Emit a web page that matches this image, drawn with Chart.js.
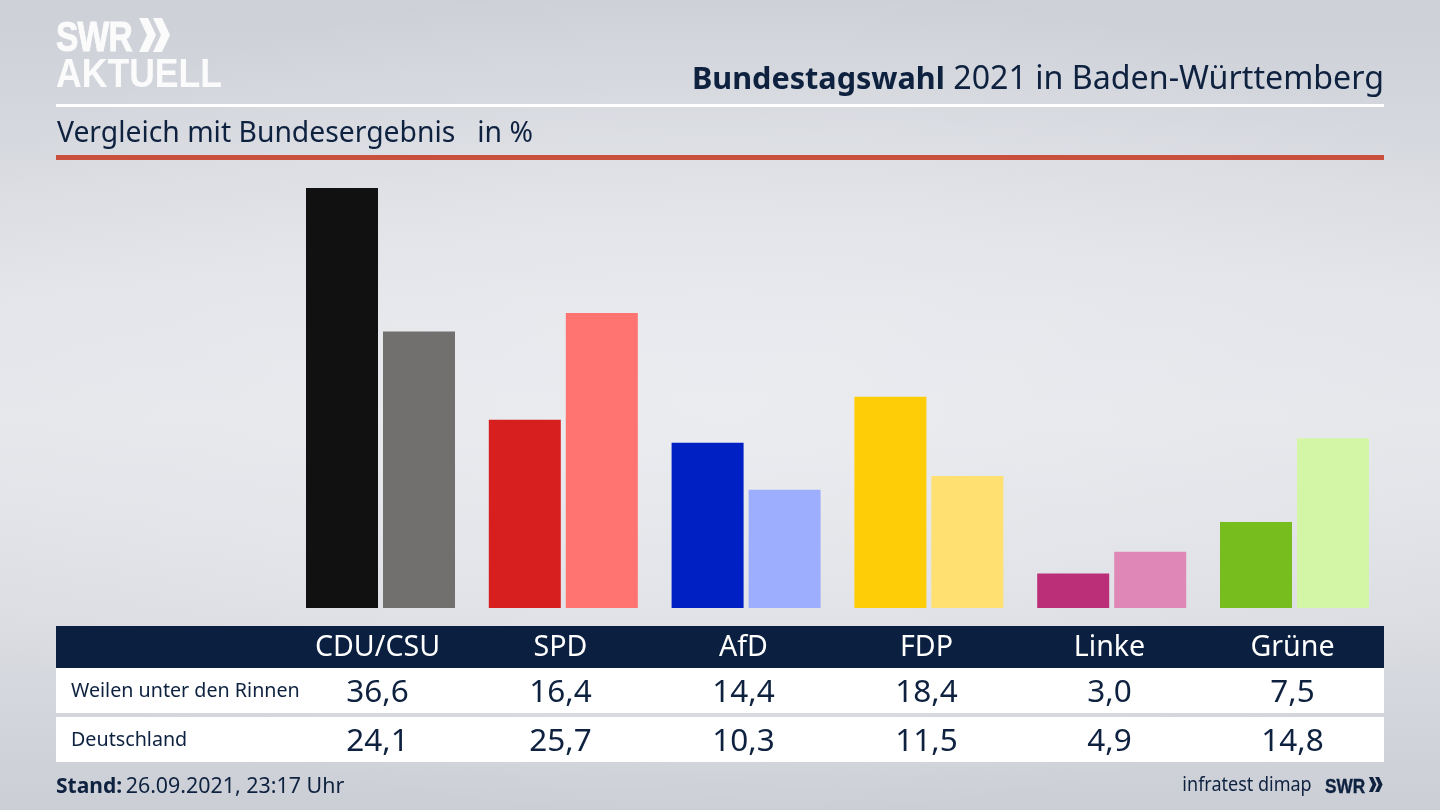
<!DOCTYPE html>
<html lang="de"><head><meta charset="utf-8">
<script src="https://cdn.jsdelivr.net/npm/chart.js@4"></script>
<style>
html,body{margin:0;padding:0;width:1440px;height:810px;overflow:hidden}
body{position:relative;font-family:"Noto Sans",sans-serif;color:#0e2240;
background:radial-gradient(ellipse 900px 420px at 50% 400px,rgba(236,237,241,.75),rgba(236,237,241,0)),linear-gradient(180deg,#cdd0d7 0,#d2d5db 90px,#e3e4e9 300px,#e6e7eb 420px,#dcdee3 600px,#cbced5 810px)}
canvas{position:absolute;left:0;top:0}
.t{position:absolute;white-space:nowrap;line-height:1}
.r{position:absolute;left:56px;width:1328px}
.c{position:absolute;transform:translateX(-50%);white-space:nowrap;line-height:1}
</style></head><body>
<canvas id="c" width="1440" height="810" style="width:1440px;height:810px"></canvas>
<div class="t" style="left:56px;top:15px;font:700 43px/1 'Liberation Sans';color:#fbfbfc;-webkit-text-stroke:1px #fbfbfc;letter-spacing:-1px;transform:scaleX(.78);transform-origin:left top">SWR</div>
<svg style="position:absolute;left:139px;top:18px" width="31" height="34" viewBox="0 0 31 34"><path d="M0 0h9l8 17-8 17H0l8-17zM14 0h9l8 17-8 17h-9l8-17z" fill="#fbfbfc"/></svg>
<div class="t" style="left:56px;top:53px;font:700 40px/1 'Liberation Sans';color:#fbfbfc;transform:scaleX(.89);transform-origin:left top">AKTUELL</div>
<div class="t" style="right:56px;top:61px;font-size:32.2px"><b style="font-size:30.6px">Bundestagswahl</b> 2021 in Baden-Württemberg</div>
<div class="r" style="top:104px;height:3px;background:#fff"></div>
<div class="t" style="left:57px;top:117px;font-size:28.3px">Vergleich mit Bundesergebnis&nbsp;&nbsp; in %</div>
<div class="r" style="top:155px;height:5px;background:#c9503c"></div>
<div id="tbl"></div>
<div class="t" style="left:56px;top:774px;font-size:21.4px"><b style="font-size:21px;margin-right:-2px">Stand:</b> 26.09.2021, 23:17 Uhr</div>
<div class="t" style="right:128px;top:774px;font-size:20px;transform:scaleX(.9);transform-origin:right top">infratest dimap</div>
<div class="t" style="left:1325px;top:775px;font:700 21px/1 'Liberation Sans';-webkit-text-stroke:.4px #0e2240;transform:scaleX(.82);transform-origin:left top">SWR</div>
<svg style="position:absolute;left:1368px;top:777px" width="15.5" height="15" viewBox="0 0 31 34"><path d="M0 0h9l8 17-8 17H0l8-17zM14 0h9l8 17-8 17h-9l8-17z" fill="#0e2240"/></svg>
<script>
const categories=["CDU/CSU","SPD","AfD","FDP","Linke","Grüne"];
const stateLabel="Weilen unter den Rinnen";
const nationLabel="Deutschland";
const stateValues=[36.6,16.4,14.4,18.4,3.0,7.5];
const nationValues=[24.1,25.7,10.3,11.5,4.9,14.8];
const stateColors=["#111111","#d81f1f","#0020c4","#ffcc08","#bb2f78","#78bd1e"];
const nationColors=["#71706e","#ff7370","#9eaeff","#ffe070","#df88b8","#d3f6a6"];
const columnCentres=[377.5,560.5,743.5,926.5,1109.5,1292.5];

new Chart(document.getElementById("c"),{
  type:"bar",
  data:{labels:categories,datasets:[
    {label:stateLabel,data:stateValues,backgroundColor:stateColors,borderWidth:0},
    {label:nationLabel,data:nationValues,backgroundColor:nationColors,borderWidth:0}
  ]},
  options:{
    responsive:false,animation:false,devicePixelRatio:1,
    categoryPercentage:154/182.8,barPercentage:72/77,
    layout:{padding:{left:289.1,right:54.1,top:149,bottom:202}},
    plugins:{legend:{display:false},tooltip:{enabled:false},title:{display:false}},
    scales:{
      x:{display:false,offset:true},
      y:{display:false,min:0,max:40}
    }
  }
});

const fmt=v=>v.toFixed(1).replace(".",",");
let h='<div class="r" style="top:626px;height:42px;background:#0b2040"></div>'+
 '<div class="r" style="top:668px;height:45px;background:#fff"></div>'+
 '<div class="r" style="top:717px;height:45px;background:#fff"></div>'+
 `<div class="t" style="left:71px;top:680px;font-size:19.7px">${stateLabel}</div>`+
 `<div class="t" style="left:71px;top:729px;font-size:19.7px">${nationLabel}</div>`;
categories.forEach((n,i)=>{
  const x=columnCentres[i];
  h+=`<div class="c" style="left:${x}px;top:631px;font-size:28.6px;color:#fff">${n}</div>`;
  h+=`<div class="c" style="left:${x}px;top:674px;font-size:31.5px">${fmt(stateValues[i])}</div>`;
  h+=`<div class="c" style="left:${x}px;top:723px;font-size:31.5px">${fmt(nationValues[i])}</div>`;
});
document.getElementById("tbl").innerHTML=h;
</script>
</body></html>
